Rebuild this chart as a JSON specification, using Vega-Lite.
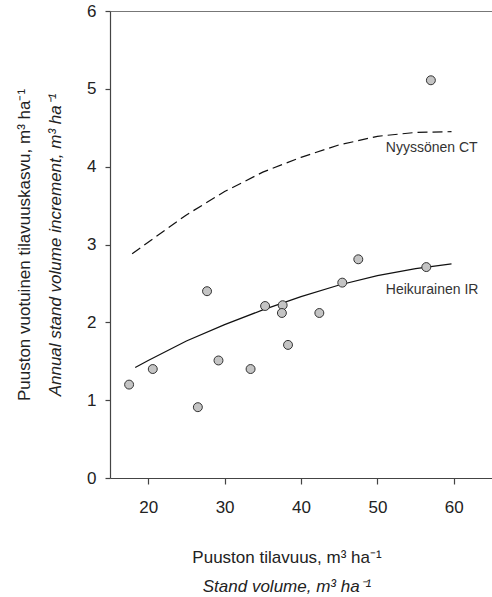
{
  "$schema": "https://vega.github.io/schema/vega-lite/v6.json",
  "width": 382,
  "height": 467,
  "autosize": {"type": "none"},
  "padding": {"left": 110, "top": 11, "right": 0, "bottom": 119},
  "background": "white",
  "title": {
    "text": "Puuston tilavuus, m³ ha⁻¹",
    "subtitle": "Stand volume, m³ ha⁻¹",
    "orient": "bottom",
    "anchor": "middle",
    "dx": -14,
    "offset": 35,
    "fontSize": 17,
    "fontWeight": "normal",
    "font": "Liberation Sans",
    "color": "#222",
    "subtitleFont": "Liberation Sans",
    "subtitleFontSize": 17,
    "subtitleFontStyle": "italic",
    "subtitleColor": "#222",
    "subtitlePadding": 12
  },
  "datasets": {
    "points": [
      {"volume": 17.5, "increment": 1.2},
      {"volume": 20.6, "increment": 1.4},
      {"volume": 26.5, "increment": 0.91},
      {"volume": 27.7, "increment": 2.4},
      {"volume": 29.2, "increment": 1.51},
      {"volume": 33.4, "increment": 1.4},
      {"volume": 35.3, "increment": 2.21},
      {"volume": 37.6, "increment": 2.22},
      {"volume": 37.5, "increment": 2.12},
      {"volume": 38.3, "increment": 1.71},
      {"volume": 42.4, "increment": 2.12},
      {"volume": 45.4, "increment": 2.51},
      {"volume": 47.5, "increment": 2.81},
      {"volume": 56.4, "increment": 2.71},
      {"volume": 57.0, "increment": 5.11}
    ],
    "ir": [
      {"volume": 18.3, "increment": 1.42},
      {"volume": 20, "increment": 1.51},
      {"volume": 25, "increment": 1.76},
      {"volume": 30, "increment": 1.97},
      {"volume": 35, "increment": 2.16},
      {"volume": 40, "increment": 2.33},
      {"volume": 45, "increment": 2.48},
      {"volume": 50, "increment": 2.6},
      {"volume": 55, "increment": 2.69},
      {"volume": 59.7, "increment": 2.75}
    ],
    "ct": [
      {"volume": 17.9, "increment": 2.88},
      {"volume": 20, "increment": 3.03},
      {"volume": 25, "increment": 3.38},
      {"volume": 30, "increment": 3.68},
      {"volume": 35, "increment": 3.93},
      {"volume": 40, "increment": 4.12},
      {"volume": 45, "increment": 4.28},
      {"volume": 50, "increment": 4.39},
      {"volume": 55, "increment": 4.44},
      {"volume": 59.7, "increment": 4.45}
    ],
    "labels": [
      {"volume": 51.1, "increment": 4.24, "label": "Nyyssönen CT"},
      {"volume": 51.1, "increment": 2.42, "label": "Heikurainen IR"}
    ]
  },
  "layer": [
    {
      "data": {"name": "ct"},
      "mark": {"type": "line", "color": "#111", "strokeWidth": 1.2, "strokeDash": [10, 5]},
      "encoding": {
        "x": {"field": "volume", "type": "quantitative", "scale": {"domain": [15, 65], "nice": false, "zero": false},
          "axis": {"orient": "top", "labels": false, "ticks": false, "grid": false, "title": null, "domainColor": "#777", "domainWidth": 1.2}},
        "y": {"field": "increment", "type": "quantitative", "scale": {"domain": [0, 6], "nice": false},
          "axis": {"orient": "left", "labels": false, "ticks": false, "domain": false, "grid": false,
            "title": "Annual stand volume increment, m³ ha⁻¹", "titleFontStyle": "italic", "titlePadding": 46}}
      }
    },
    {
      "data": {"name": "ir"},
      "mark": {"type": "line", "color": "#111", "strokeWidth": 1.2},
      "encoding": {
        "x": {"field": "volume", "type": "quantitative", "axis": null},
        "y": {"field": "increment", "type": "quantitative", "axis": null}
      }
    },
    {
      "data": {"name": "points"},
      "mark": {"type": "point", "shape": "circle", "filled": true, "fill": "#c4c4c4", "stroke": "#333", "strokeWidth": 1, "size": 80, "opacity": 1},
      "encoding": {
        "x": {"field": "volume", "type": "quantitative",
          "axis": {"orient": "bottom", "values": [20, 30, 40, 50, 60], "tickSize": 6, "labelPadding": 15, "grid": false, "title": null}},
        "y": {"field": "increment", "type": "quantitative",
          "axis": {"orient": "left", "values": [0, 1, 2, 3, 4, 5, 6], "tickSize": 5, "labelPadding": 9, "grid": false,
            "title": "Puuston vuotuinen tilavuuskasvu, m³ ha⁻¹", "titlePadding": 53}}
      }
    },
    {
      "data": {"name": "labels"},
      "mark": {"type": "text", "align": "left", "baseline": "middle", "fontSize": 14, "font": "Liberation Sans", "color": "#333"},
      "encoding": {
        "x": {"field": "volume", "type": "quantitative", "axis": null},
        "y": {"field": "increment", "type": "quantitative", "axis": null},
        "text": {"field": "label"}
      }
    }
  ],
  "resolve": {"axis": {"x": "independent", "y": "independent"}},
  "config": {
    "view": {"stroke": null},
    "axis": {
      "labelFont": "Liberation Sans",
      "labelFontSize": 17,
      "labelColor": "#222",
      "titleFont": "Liberation Sans",
      "titleFontSize": 17,
      "titleFontWeight": "normal",
      "titleColor": "#222",
      "domainColor": "#444",
      "tickColor": "#444",
      "domainWidth": 1.2,
      "tickWidth": 1.2
    }
  }
}
